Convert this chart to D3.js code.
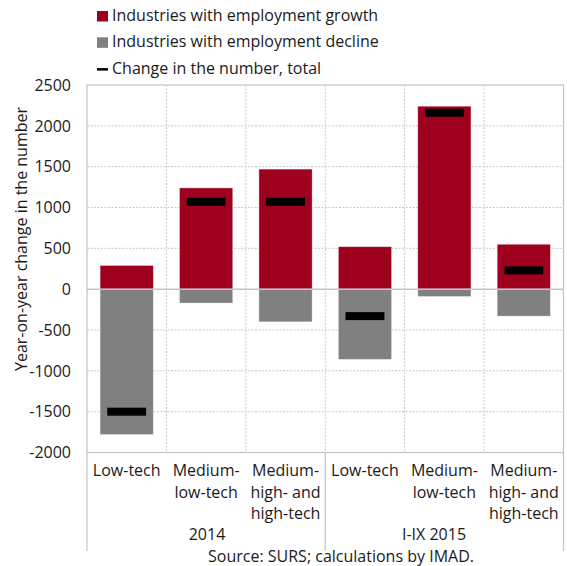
<!DOCTYPE html>
<html>
<head>
<meta charset="utf-8">
<script src="https://cdn.jsdelivr.net/npm/d3@7"></script>
<style>
  html, body { margin: 0; padding: 0; background: #fff; }
  svg { display: block; font-family: "Open Sans", sans-serif; }
</style>
</head>
<body>
<svg id="chart" width="567" height="566"></svg>
<script>
// Employment change by technology intensity of manufacturing industries
const groups = ["2014", "I-IX 2015"];
const categoryLines = [
  ["Low-tech"],
  ["Medium-", "low-tech"],
  ["Medium-", "high- and", "high-tech"]
];
const growth  = [290, 1240, 1470, 520, 2240, 550];
const decline = [-1780, -170, -400, -860, -90, -330];
const total   = [-1500, 1070, 1070, -330, 2160, 230];
const yTicks  = [2500, 2000, 1500, 1000, 500, 0, -500, -1000, -1500, -2000];
const legendItems = [
  { label: "Industries with employment growth", kind: "growth" },
  { label: "Industries with employment decline", kind: "decline" },
  { label: "Change in the number, total", kind: "total" }
];
const yTitle = "Year-on-year change in the number";
const source = "Source: SURS; calculations by IMAD.";

const colors = { growth: "#9e001e", decline: "#808080", total: "#000000" };
const frameColor = "#c4c4c4";
const gridColor = "#c8c8c8";

const svg = d3.select("#chart");
const plot = { left: 87, right: 563.5, top: 85, bottom: 452.5 };

// one slot per bar: group × category
const slots = [];
groups.forEach((g, gi) => categoryLines.forEach((c, ci) => slots.push({ g, gi, ci, lines: c })));
const slotIds = slots.map((d, i) => i);

const x = d3.scaleBand().domain(slotIds).range([plot.left, plot.right]).paddingInner(0.33).paddingOuter(0.165);
const xCell = d3.scaleBand().domain(slotIds).range([plot.left, plot.right]);
const y = d3.scaleLinear().domain([-2000, 2500]).range([plot.bottom, plot.top]);

const fmt = v => String(v);

// horizontal dotted gridlines
svg.append("g").selectAll("line")
  .data(yTicks.filter(v => v !== 0 && v !== 2500 && v !== -2000))
  .join("line")
  .attr("x1", plot.left).attr("x2", plot.right)
  .attr("y1", d => y(d)).attr("y2", d => y(d))
  .attr("stroke", gridColor).attr("stroke-width", 1).attr("stroke-dasharray", "2,1.5");

// vertical dotted gridlines at category boundaries
svg.append("g").selectAll("line")
  .data(slotIds.slice(1))
  .join("line")
  .attr("x1", d => xCell(d)).attr("x2", d => xCell(d))
  .attr("y1", plot.top).attr("y2", plot.bottom)
  .attr("stroke", gridColor).attr("stroke-width", 1).attr("stroke-dasharray", "2,1.5");

// bars
const bars = svg.append("g");
bars.selectAll("rect.growth")
  .data(slotIds)
  .join("rect")
  .attr("class", "growth")
  .attr("x", d => x(d)).attr("width", x.bandwidth())
  .attr("y", d => y(growth[d])).attr("height", d => y(0) - y(growth[d]))
  .attr("fill", colors.growth)
  .attr("stroke", "rgba(255,255,255,0.45)").attr("stroke-width", 0.75);
bars.selectAll("rect.decline")
  .data(slotIds)
  .join("rect")
  .attr("class", "decline")
  .attr("x", d => x(d)).attr("width", x.bandwidth())
  .attr("y", y(0)).attr("height", d => y(decline[d]) - y(0))
  .attr("fill", colors.decline)
  .attr("stroke", "rgba(255,255,255,0.45)").attr("stroke-width", 0.75);

// zero line
svg.append("line")
  .attr("x1", plot.left).attr("x2", plot.right)
  .attr("y1", y(0)).attr("y2", y(0))
  .attr("stroke", frameColor).attr("stroke-width", 1.5);

// total markers
const markW = x.bandwidth() * 0.73;
const markH = 8;
svg.append("g").selectAll("rect")
  .data(slotIds)
  .join("rect")
  .attr("x", d => x(d) + (x.bandwidth() - markW) / 2)
  .attr("width", markW)
  .attr("y", d => y(total[d]) - markH / 2)
  .attr("height", markH)
  .attr("fill", colors.total);

// plot frame
svg.append("rect")
  .attr("x", plot.left).attr("y", plot.top)
  .attr("width", plot.right - plot.left).attr("height", plot.bottom - plot.top)
  .attr("fill", "none").attr("stroke", frameColor).attr("stroke-width", 1.2);

// group separators extending below the axis
const labelBottom = 551;
const groupEdges = [plot.left, xCell(categoryLines.length), plot.right];
svg.append("g").selectAll("line")
  .data(groupEdges)
  .join("line")
  .attr("x1", d => d).attr("x2", d => d)
  .attr("y1", plot.bottom).attr("y2", labelBottom)
  .attr("stroke", frameColor).attr("stroke-width", 1.2);

// y axis tick labels
svg.append("g").selectAll("text")
  .data(yTicks)
  .join("text")
  .attr("x", 71)
  .attr("y", d => y(d))
  .attr("dy", "0.36em")
  .attr("text-anchor", "end")
  .attr("font-size", 16)
  .attr("fill", "#1a1a1a")
  .text(fmt);

// y axis title
svg.append("text")
  .attr("transform", `translate(27,${239}) rotate(-90)`)
  .attr("text-anchor", "middle")
  .attr("font-size", 16)
  .attr("fill", "#1a1a1a")
  .text(yTitle);

// category labels
const catG = svg.append("g");
slots.forEach((s, i) => {
  const t = catG.append("text")
    .attr("x", xCell(i) + xCell.bandwidth() / 2)
    .attr("y", 476)
    .attr("text-anchor", "middle")
    .attr("font-size", 16)
    .attr("fill", "#1a1a1a");
  s.lines.forEach((ln, li) => {
    t.append("tspan")
      .attr("x", xCell(i) + xCell.bandwidth() / 2)
      .attr("dy", li === 0 ? 0 : 21.5)
      .text(ln);
  });
});

// group labels
const groupCenters = [207, 434];
svg.append("g").selectAll("text")
  .data(groups)
  .join("text")
  .attr("x", (d, i) => groupCenters[i])
  .attr("y", 539.5)
  .attr("text-anchor", "middle")
  .attr("font-size", 16)
  .attr("fill", "#1a1a1a")
  .text(d => d);

// source note
svg.append("text")
  .attr("x", 341).attr("y", 561.5)
  .attr("text-anchor", "middle")
  .attr("font-size", 16)
  .attr("fill", "#1a1a1a")
  .text(source);

// legend
const legend = svg.append("g");
legendItems.forEach((item, i) => {
  const base = 21 + i * 26.3;
  if (item.kind === "total") {
    legend.append("rect")
      .attr("x", 97).attr("y", base - 5.5).attr("width", 11).attr("height", 2.5)
      .attr("fill", colors.total);
  } else {
    legend.append("rect")
      .attr("x", 97).attr("y", base - 10).attr("width", 11).attr("height", 10.5)
      .attr("fill", colors[item.kind]);
  }
  legend.append("text")
    .attr("x", 112).attr("y", base)
    .attr("font-size", 16)
    .attr("fill", "#1a1a1a")
    .text(item.label);
});
</script>
</body>
</html>
